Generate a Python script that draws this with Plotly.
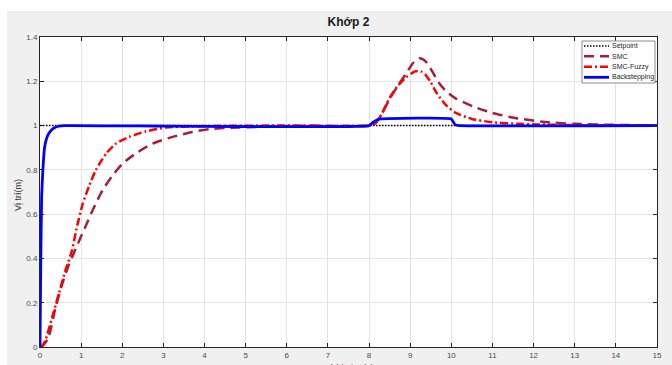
import plotly.graph_objects as go

# ---------------- data ----------------
t_setpoint = [0, 15]
v_setpoint = [1.0, 1.0]

t_smc = [0, 0.05, 0.2, 0.38, 0.54, 0.7, 0.86, 1.0, 1.12, 1.28, 1.52, 1.77, 2.01, 2.33,
         2.74, 3.22, 3.71, 4.11, 4.62, 5.5, 6.5, 8.0, 8.15, 8.3, 8.5, 8.7, 8.9, 9.05,
         9.15, 9.22, 9.3, 9.4, 9.55, 9.71, 9.9, 10.11, 10.52, 11.0, 11.55, 12.35, 13.0,
         14.0, 15.0]
v_smc = [0, 0.003, 0.04, 0.18, 0.285, 0.37, 0.44, 0.5, 0.55, 0.618, 0.708, 0.776, 0.829,
         0.874, 0.919, 0.949, 0.971, 0.984, 0.99, 0.995, 0.999, 1.0, 1.01, 1.05, 1.12,
         1.18, 1.235, 1.278, 1.298, 1.304, 1.3, 1.285, 1.24, 1.19, 1.15, 1.122, 1.087,
         1.057, 1.034, 1.015, 1.008, 1.003, 1.001]

t_fuzzy = [0, 0.05, 0.13, 0.3, 0.46, 0.62, 0.78, 0.88, 1.04, 1.2, 1.36, 1.61, 1.85, 2.17,
           2.58, 3.06, 3.7, 4.5, 6.0, 8.0, 8.15, 8.3, 8.5, 8.7, 8.9, 9.05, 9.12, 9.2,
           9.28, 9.38, 9.5, 9.65, 9.87, 10.11, 10.5, 11.0, 11.6, 12.1, 13.0, 15.0]
v_fuzzy = [0, 0.005, 0.03, 0.137, 0.242, 0.347, 0.437, 0.528, 0.648, 0.73, 0.8, 0.874,
           0.919, 0.949, 0.974, 0.991, 0.997, 0.999, 1.0, 1.0, 1.01, 1.05, 1.125, 1.18,
           1.218, 1.238, 1.245, 1.247, 1.243, 1.228, 1.195, 1.145, 1.092, 1.057, 1.03,
           1.015, 1.008, 1.005, 1.002, 1.0]

t_back = [0, 0.02, 0.04, 0.07, 0.11, 0.15, 0.2, 0.27, 0.35, 0.45, 0.6, 8.0, 8.1, 8.2,
          8.3, 10.0, 10.05, 10.1, 10.2, 15.0]
v_back = [0, 0.4, 0.68, 0.8, 0.9, 0.935, 0.96, 0.978, 0.99, 0.997, 1.0, 1.0, 1.015,
          1.026, 1.03, 1.03, 1.015, 1.003, 1.0, 1.0]

x_ticks = list(range(0, 16))
y_ticks = [0, 0.2, 0.4, 0.6, 0.8, 1.0, 1.2, 1.4]
y_tick_labels = ["0", "0.2", "0.4", "0.6", "0.8", "1", "1.2", "1.4"]

series_names = ["Setpoint", "SMC", "SMC-Fuzzy", "Backstepping"]
series_colors = ["black", "#a2203c", "#ff0000", "#0000ff"]
series_dash = ["1.5px,1.5px", "10px,6px", "8px,3px,2px,3px", "solid"]
series_width = [1.5, 2.5, 2.5, 2.8]

# ---------------- layout constants ----------------
W, H = 672, 365
ML, MR, MT, MB = 40, 15, 37, 18
PW, PH = W - ML - MR, H - MT - MB

def px_x(p):
    return (p - ML) / PW

def px_y(p):
    return (H - MB - p) / PH

FONT = "Liberation Sans, Arial, sans-serif"

fig = go.Figure()
data_sets = [(t_setpoint, v_setpoint), (t_smc, v_smc), (t_fuzzy, v_fuzzy), (t_back, v_back)]
smooth = [None, 0.6, 0.6, 0.4]
for i, (tx, vy) in enumerate(data_sets):
    line = dict(color=series_colors[i], width=series_width[i], dash=series_dash[i])
    if smooth[i] is not None:
        line.update(shape="spline", smoothing=smooth[i])
    fig.add_trace(go.Scatter(x=tx, y=vy, mode="lines", name=series_names[i],
                             line=line, showlegend=False))

axis_common = dict(showline=True, linecolor="#262626", linewidth=1, mirror="allticks",
                   ticks="inside", ticklen=4, tickcolor="#262626", showgrid=True,
                   gridcolor="#e3e3e3", gridwidth=1, zeroline=False, automargin=False,
                   tickfont=dict(family=FONT, size=8, color="#4a4a4a"))

fig.update_xaxes(range=[0, 15], tickvals=x_ticks, **axis_common)
fig.update_yaxes(range=[0, 1.4], tickvals=y_ticks, ticktext=y_tick_labels, **axis_common)

# ---- custom compact legend (MATLAB style) ----
shapes = [
    dict(type="rect", xref="paper", yref="paper", layer="above",
         x0=px_x(0), x1=px_x(7), y0=px_y(H), y1=px_y(0),
         fillcolor="white", line=dict(width=0)),
    dict(type="rect", xref="paper", yref="paper", layer="above",
         x0=px_x(0), x1=px_x(W), y0=px_y(11), y1=px_y(0),
         fillcolor="white", line=dict(width=0)),
    dict(type="rect", xref="paper", yref="paper", layer="above",
         x0=px_x(582), x1=px_x(655), y0=px_y(83), y1=px_y(41),
         fillcolor="white", line=dict(color="#8c8c8c", width=1)),
]
annotations = [
    dict(text="Vị trí(m)", xref="paper", yref="paper", x=px_x(18), y=px_y(195),
         xanchor="center", yanchor="middle", textangle=-90, showarrow=False,
         font=dict(family=FONT, size=9, color="#333333")),
    dict(text="Thời gian(s)", xref="paper", yref="paper", x=0.5, y=px_y(361),
         xanchor="center", yanchor="top", showarrow=False,
         font=dict(family=FONT, size=9, color="#333333")),
]
leg_rows = [46, 56.3, 66.8, 77.3]
for i, name in enumerate(series_names):
    yy = px_y(leg_rows[i])
    shapes.append(dict(type="line", xref="paper", yref="paper", layer="above",
                       x0=px_x(584), x1=px_x(609), y0=yy, y1=yy,
                       line=dict(color=series_colors[i], width=series_width[i],
                                 dash=series_dash[i])))
    annotations.append(dict(text=name, xref="paper", yref="paper", x=px_x(610), y=yy,
                            xanchor="left", yanchor="middle", showarrow=False,
                            font=dict(family=FONT, size=7, color="#262626")))

fig.update_layout(
    width=W, height=H,
    margin=dict(l=ML, r=MR, t=MT, b=MB, autoexpand=False),
    paper_bgcolor="#f0f0f0", plot_bgcolor="white",
    title=dict(text="<b>Khớp 2</b>", x=0.5, xref="paper", y=1 - 22 / H, yanchor="middle",
               font=dict(family=FONT, size=12, color="#1a1a1a")),
    showlegend=False,
    shapes=shapes,
    annotations=annotations,
)

fig.write_html(
    "out.html",
    config={"displayModeBar": False},
    post_script="document.body.style.margin='0';document.body.style.padding='0';"
                "document.body.style.overflow='hidden';",
)
